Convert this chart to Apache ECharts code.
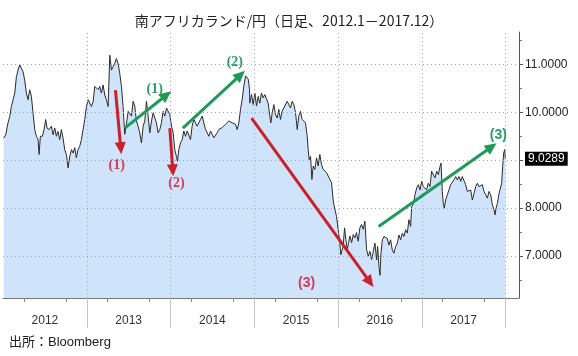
<!DOCTYPE html>
<html><head><meta charset="utf-8">
<script src="https://cdn.jsdelivr.net/npm/echarts@6/dist/echarts.min.js"></script>
<style>html,body{margin:0;padding:0;background:#fff}#c{width:578px;height:356px}</style>
</head><body><div id="c"></div>
<script>
// Time in decimal years, rate in JPY per ZAR
const dates = [
2012.008,2012.032,2012.060,2012.080,2012.100,2012.120,2012.140,2012.160,2012.180,2012.200,2012.219,2012.239,2012.259,2012.279,2012.299,2012.319,2012.339,2012.359,2012.379,2012.399,2012.419,2012.431,2012.446,2012.470,2012.490,2012.510,2012.526,2012.550,2012.578,2012.598,2012.618,2012.637,2012.657,2012.677,2012.697,2012.717,2012.737,2012.757,2012.777,2012.797,2012.817,2012.837,2012.857,2012.876,2012.896,2012.916,2012.936,2012.956,2012.976,2012.996,2013.016,2013.036,2013.056,2013.076,2013.096,2013.116,2013.136,2013.155,2013.175,2013.195,2013.215,2013.235,2013.255,2013.275,2013.295,2013.315,2013.334,2013.354,2013.374,2013.394,2013.414,2013.434,
2013.454,2013.474,2013.494,2013.514,2013.534,2013.554,2013.573,2013.593,2013.613,2013.633,2013.653,2013.673,2013.693,2013.713,2013.733,2013.753,2013.773,2013.793,2013.812,2013.832,2013.852,2013.872,2013.892,2013.912,2013.932,2013.952,2013.972,2013.992,2014.012,2014.032,2014.051,2014.071,2014.083,2014.099,2014.119,2014.139,2014.159,2014.179,2014.199,2014.219,2014.239,2014.258,2014.278,2014.298,2014.318,2014.338,2014.358,2014.378,2014.398,2014.418,2014.438,2014.458,2014.478,2014.497,2014.517,2014.537,2014.557,2014.577,2014.597,2014.617,2014.637,2014.657,2014.677,2014.697,2014.716,2014.736,2014.756,2014.776,2014.796,2014.816,2014.836,2014.856,2014.876,2014.896,2014.912,2014.928,2014.943,
2014.947,2014.967,2014.987,2015.007,2015.027,2015.047,2015.066,2015.086,2015.106,2015.126,2015.146,2015.166,2015.186,2015.198,2015.214,2015.234,2015.254,2015.274,2015.293,2015.313,2015.333,2015.353,2015.373,2015.393,2015.413,2015.433,2015.453,2015.473,2015.493,2015.513,2015.532,2015.552,2015.572,2015.592,2015.612,2015.632,2015.644,2015.656,2015.672,2015.688,2015.704,2015.724,2015.744,2015.763,2015.783,2015.803,2015.823,2015.843,2015.863,2015.883,2015.903,2015.923,2015.943,2015.963,2015.982,2016.002,2016.022,2016.034,2016.046,2016.062,2016.078,2016.094,2016.110,2016.126,2016.142,2016.162,2016.182,2016.201,2016.221,2016.241,2016.261,2016.281,2016.301,2016.321,2016.341,2016.361,2016.381,2016.401,2016.421,
2016.441,2016.461,2016.473,2016.489,2016.501,2016.513,2016.529,2016.549,2016.568,2016.588,2016.608,2016.628,2016.648,2016.668,2016.688,2016.708,2016.728,2016.748,2016.768,2016.787,2016.807,2016.827,2016.847,2016.867,2016.879,2016.891,2016.903,2016.919,2016.939,2016.959,2016.979,2016.999,2017.018,2017.038,2017.058,2017.078,2017.098,2017.118,2017.138,2017.158,2017.178,2017.198,2017.218,2017.230,2017.245,2017.257,2017.269,2017.285,2017.305,2017.325,2017.345,2017.365,2017.385,2017.405,2017.425,2017.445,2017.465,2017.484,2017.504,2017.524,2017.544,2017.564,2017.584,2017.604,2017.624,2017.644,2017.664,2017.684,2017.703,2017.723,2017.743,2017.763,2017.783,2017.803,2017.823,2017.843,2017.863,2017.875,2017.887,2017.903,2017.923,2017.942,2017.954,2017.966,2017.978,2017.990,2017.998
];
const rates = [
9.46,9.53,9.78,9.91,10.12,10.26,10.4,10.74,10.88,10.99,11.03,10.85,10.67,10.4,10.26,10.47,10.33,9.98,9.64,9.5,9.43,9.12,9.5,9.5,9.64,9.85,9.67,9.64,9.71,9.53,9.67,9.5,9.6,9.43,9.64,9.46,9.22,9.12,8.84,9.08,9.22,9.15,9.26,9.05,9.22,9.29,9.43,9.64,9.85,10.12,10.26,10.22,10.12,10.22,10.54,10.57,10.47,10.54,10.4,10.57,10.36,10.26,10.12,11.19,10.88,10.95,11.02,11.12,11.02,10.81,10.54,10.12,
9.54,9.75,10.02,10.06,9.92,10.23,10.13,9.82,9.71,9.57,9.36,9.71,9.82,10.23,9.92,9.57,9.82,9.99,10.02,9.78,9.57,9.64,9.78,10.02,9.92,10.09,10.09,9.95,9.71,9.57,9.22,9.08,8.98,9.22,9.36,9.43,9.61,9.5,9.61,9.57,9.43,9.71,9.85,9.78,9.71,9.68,9.85,9.92,9.78,9.64,9.57,9.5,9.61,9.54,9.47,9.5,9.57,9.64,9.61,9.68,9.64,9.75,9.78,9.82,9.85,9.78,9.82,9.75,9.64,9.78,10.06,10.27,10.55,10.76,10.79,10.69,10.48,
10.19,10.37,10.16,10.4,10.13,10.33,10.19,10.4,10.3,10.37,10.4,10.19,9.92,9.78,9.99,10.16,9.95,9.88,10.06,9.85,10.02,10.09,10.06,10.23,10.19,10.09,10.23,10.16,9.99,9.64,9.92,10.02,9.85,9.85,9.78,9.5,9.22,9.01,9.08,8.6,8.88,8.81,9.05,8.88,9.12,8.91,8.81,8.84,8.74,8.67,8.6,8.53,8.15,7.97,7.83,7.56,7.28,7.03,7.0,7.21,7.59,7.35,7.14,7.28,7.42,7.28,7.45,7.38,7.49,7.31,7.59,7.66,7.56,7.73,7.14,7.0,7.1,6.93,7.1,
7.27,6.92,7.2,6.78,6.6,7.06,7.34,7.41,7.44,7.37,7.23,7.34,7.13,7.06,7.2,7.27,7.44,7.34,7.48,7.41,7.55,7.48,7.76,7.62,8.03,8.07,8.1,8.28,8.42,8.49,8.38,8.56,8.45,8.49,8.38,8.52,8.45,8.77,8.73,8.63,8.77,8.7,8.87,8.94,8.35,8.1,8.0,8.17,8.28,8.38,8.49,8.45,8.59,8.66,8.59,8.66,8.56,8.66,8.63,8.49,8.35,8.31,8.38,8.17,8.31,8.45,8.52,8.45,8.42,8.49,8.35,8.28,8.21,8.35,8.28,8.07,7.97,7.86,8.0,8.1,8.31,8.35,8.52,8.87,9.15,9.22,9.0289
];
const lastRate = 9.0289;
const yTicks = [7, 8, 9, 10, 11];
const yHalfTicks = [6.5, 7.5, 8.5, 9.5, 10.5, 11.5];
const yearLabels = [2012, 2013, 2014, 2015, 2016, 2017];
const yearBounds = [2013, 2014, 2015, 2016, 2017, 2018];
// arrows: [start date, start rate, end date, end rate, direction]
const arrowData = [
  [2013.343, 10.46, 2013.406, 9.25, 'down'],
  [2013.454, 9.67, 2013.952, 10.36, 'up'],
  [2013.992, 9.67, 2014.027, 8.79, 'down'],
  [2014.147, 9.67, 2014.836, 10.78, 'up'],
  [2014.968, 9.88, 2016.381, 6.46, 'down'],
  [2016.485, 7.62, 2017.835, 9.28, 'up']
];
// text marks: [date, rate, text, direction]
const noteData = [
  [2013.358, 8.90, '(1)', 'down'],
  [2013.812, 10.48, '(1)', 'up'],
  [2014.072, 8.52, '(2)', 'down'],
  [2014.768, 11.05, '(2)', 'up'],
  [2015.625, 6.43, '(3)', 'down'],
  [2017.914, 9.52, '(3)', 'up']
];

const RED = '#cc1f2c', GREEN = '#1f9a58';
const RED_TXT = '#d23a58', GREEN_TXT = '#2e9a66';
const XMIN = 2012, XMAX = 2018.161, YMIN = 6.127, YMAX = 11.674;
const numFont = "'Liberation Sans', Arial, sans-serif";

const chart = echarts.init(document.getElementById('c'), null, {renderer: 'canvas'});

const gridLines = [
  ...yTicks.map(v => ({yAxis: v})),
  ...yearBounds.map(v => ({xAxis: v}))
];
const arrowLines = arrowData.map(a => [
  {coord: [a[0], a[1]], symbol: 'none',
   lineStyle: {color: a[4] === 'down' ? RED : GREEN, width: 3, type: 'solid'}},
  {coord: [a[2], a[3]], symbol: 'triangle', symbolSize: [11, 12]}
]);

chart.setOption({
  animation: false,
  backgroundColor: '#fff',
  title: [
    {text: '南アフリカランド/円（日足、2012.1－2017.12）', left: 'center', top: 9,
     textStyle: {fontSize: 14, fontWeight: 'normal', color: '#222', fontFamily: "'Noto Sans CJK JP', sans-serif"}},
    {text: '出所：Bloomberg', left: 4, top: 331,
     textStyle: {fontSize: 13, fontWeight: 'normal', color: '#222', fontFamily: "'Liberation Sans', 'Noto Sans CJK JP', sans-serif"}}
  ],
  grid: {left: 3, right: 59, top: 32, bottom: 58, containLabel: false},
  xAxis: [
    {type: 'value', min: XMIN, max: XMAX, position: 'bottom',
     axisLine: {show: true, lineStyle: {color: '#777', width: 1}},
     axisTick: {show: true, customValues: yearBounds, length: 30, lineStyle: {color: '#c4c4c4', width: 1}},
     axisLabel: {show: false}, splitLine: {show: false}},
    {type: 'value', min: XMIN, max: XMAX, position: 'bottom',
     axisLine: {show: false},
     axisTick: {show: true, customValues: yearLabels.flatMap(y => [y + 0.25, y + 0.75]), length: 4, lineStyle: {color: '#888'}},
     axisLabel: {show: true, customValues: yearLabels.map(y => y + 0.5), formatter: v => String(Math.floor(v)),
                 margin: 17, fontSize: 12, color: '#333', fontFamily: numFont},
     splitLine: {show: false}}
  ],
  yAxis: [
    {type: 'value', min: YMIN, max: YMAX, position: 'right',
     axisLine: {show: true, lineStyle: {color: '#555', width: 1}},
     axisTick: {show: true, customValues: yTicks, length: 4, lineStyle: {color: '#555'}},
     axisLabel: {show: true, customValues: yTicks, formatter: v => v.toFixed(4), margin: 6,
                 fontSize: 12, color: '#222', fontFamily: numFont},
     splitLine: {show: false}},
    {type: 'value', min: YMIN, max: YMAX, position: 'right',
     axisLine: {show: false},
     axisTick: {show: true, customValues: yHalfTicks, length: 3, lineStyle: {color: '#777'}},
     axisLabel: {show: true, customValues: [lastRate], formatter: v => v.toFixed(4), margin: 6,
                 fontSize: 12, lineHeight: 13, color: '#fff', backgroundColor: '#000', padding: [1, 3, 0, 3],
                 fontFamily: numFont},
     splitLine: {show: false}}
  ],
  series: [{
    type: 'line',
    xAxisIndex: 0, yAxisIndex: 0,
    data: dates.map((d, i) => [d, rates[i]]),
    showSymbol: false, symbol: 'none', silent: true,
    lineStyle: {color: '#2b2b2b', width: 1},
    areaStyle: {color: '#cfe4fa', origin: 'start', opacity: 1},
    markLine: {
      silent: true, symbol: 'none', animation: false,
      label: {show: false},
      lineStyle: {color: '#a8a8a8', type: [1, 3], width: 1},
      data: [...gridLines, ...arrowLines]
    },
    markPoint: {
      silent: true, animation: false,
      symbol: 'circle', symbolSize: 1,
      itemStyle: {color: 'rgba(0,0,0,0)'},
      data: noteData.map(n => ({
        coord: [n[0], n[1]], name: n[2],
        label: {show: true, position: 'inside', formatter: '{b}', fontSize: 14, fontWeight: 'bold',
                color: n[3] === 'down' ? RED_TXT : GREEN_TXT,
                fontFamily: n[2] === '(3)' ? "'Liberation Sans', sans-serif" : "'Liberation Serif', serif"}
      }))
    }
  }]
});
</script></body></html>
